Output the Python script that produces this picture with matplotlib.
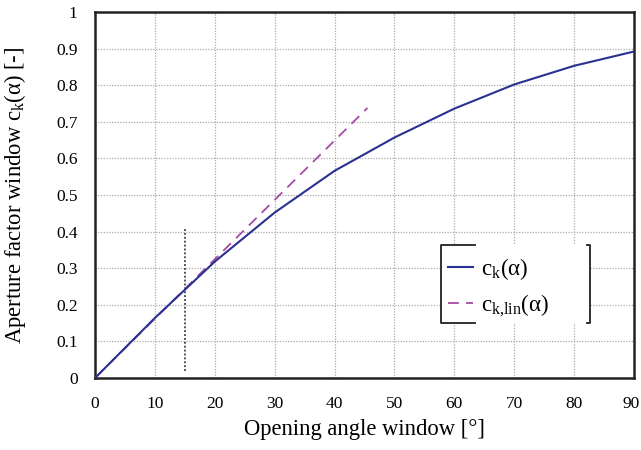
import matplotlib
matplotlib.use('Agg')
import matplotlib.pyplot as plt
import matplotlib.transforms as mtransforms
from matplotlib.patches import Rectangle
from matplotlib.lines import Line2D

#------------------------------------------------------------------------#
# Data
#------------------------------------------------------------------------#
angle = [0, 10, 20, 30, 40, 50, 60, 70, 80, 90]
c_k = [0.0, 0.164, 0.318, 0.452, 0.566, 0.657, 0.736, 0.802, 0.853, 0.892]

angle_lin = [0, 45.5]
c_k_lin = [0.0, 0.738]

marker_x = [15, 15]
marker_y = [0.02, 0.41]

x_ticks = [0, 10, 20, 30, 40, 50, 60, 70, 80, 90]
y_ticks = [0, 0.1, 0.2, 0.3, 0.4, 0.5, 0.6, 0.7, 0.8, 0.9, 1]
y_labels = ['0', '0.1', '0.2', '0.3', '0.4', '0.5', '0.6', '0.7', '0.8', '0.9', '1']

#------------------------------------------------------------------------#
# Plot
#------------------------------------------------------------------------#
plt.rcParams['font.family'] = ['Liberation Serif', 'DejaVu Serif']
plt.rcParams['mathtext.fontset'] = 'custom'
plt.rcParams['mathtext.rm'] = 'Liberation Serif'

fig = plt.figure(figsize=(6.41, 4.5), dpi=100)
ax = fig.add_axes([95/641, 72/450, 539/641, 366/450])

blue = '#2b3190'
purple = '#a54aa5'

ax.plot(angle_lin, c_k_lin, color=purple, lw=1.3, dashes=(6, 4), zorder=3)
ax.plot(angle, c_k, color=blue, lw=1.5, zorder=4)
ax.plot(marker_x, marker_y, color='#555555', lw=1.4, ls=(0, (1, 1)), zorder=2)

ax.set_xlim(0, 90)
ax.set_ylim(0, 1)
ax.set_xticks(x_ticks)
ax.set_yticks(y_ticks)
ax.set_yticklabels(y_labels)
ax.tick_params(length=0, labelsize=12.5)
ax.tick_params(axis='x', pad=13)
ax.tick_params(axis='y', pad=12.5)
ax.grid(True, color='#ababab', ls=(0, (1, 1.2)), lw=0.9)
ax.set_axisbelow(True)
for s in ax.spines.values():
    s.set_linewidth(1.8)
    s.set_color('#222222')

# keep the last x label inside the figure edge
last = ax.get_xticklabels()[-1]
last.set_transform(last.get_transform() +
                   mtransforms.ScaledTranslation(-3/100, 0, fig.dpi_scale_trans))

ax.set_xlabel('Opening angle window [°]', fontsize=16.3)
ax.set_ylabel('Aperture factor window c$_\\mathrm{k}$(α) [-]', fontsize=16.3)
ax.xaxis.set_label_coords(0.5, -0.112)
ax.yaxis.set_label_coords(-0.124, 0.5)

# legend with bracket style frame
x0, x1, y0, y1 = 0.642, 0.918, 0.150, 0.363
ax.add_patch(Rectangle((x0, y0), x1 - x0, y1 - y0, transform=ax.transAxes,
                       facecolor='white', edgecolor='none', zorder=5))
ax.add_line(Line2D([x0 + 0.063, x0, x0, x0 + 0.063], [y1, y1, y0, y0],
                   transform=ax.transAxes, color='#222222', lw=1.3, zorder=6))
ax.add_line(Line2D([x1 - 0.006, x1, x1, x1 - 0.006], [y1, y1, y0, y0],
                   transform=ax.transAxes, color='#222222', lw=1.3, zorder=6))

h1 = Line2D([], [], color=blue, lw=1.5)
h2 = Line2D([], [], color=purple, lw=1.3, dashes=(6, 4))
leg = ax.legend([h1, h2], ['c$_\\mathrm{k}$(α)', 'c$_\\mathrm{k{,}lin}$(α)'],
                loc='upper left', bbox_to_anchor=(x0 + 0.013, y1 - 0.03),
                frameon=False, fontsize=16.5, handlelength=1.1, handletextpad=0.35,
                labelspacing=0.45, borderaxespad=0, borderpad=0)
leg.set_zorder(7)

plt.savefig('out.png', dpi=100)
